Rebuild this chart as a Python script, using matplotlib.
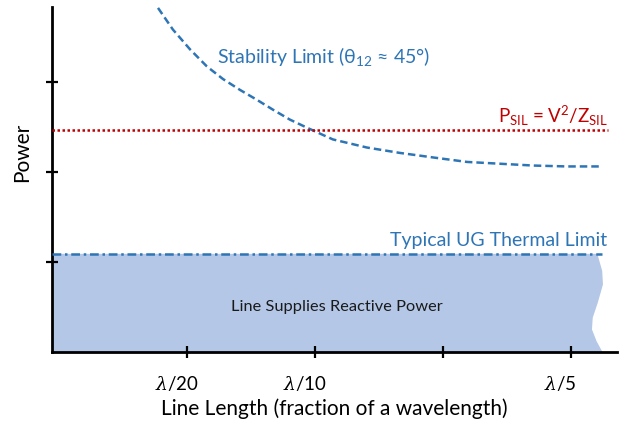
import numpy as np
import matplotlib.pyplot as plt

plt.rcParams['font.family'] = ['Lato', 'DejaVu Sans']
plt.rcParams['mathtext.fontset'] = 'custom'
plt.rcParams['mathtext.rm'] = 'Lato'
plt.rcParams['mathtext.it'] = 'DejaVu Serif:italic'

# stability limit curve (line length as fraction of wavelength, power)
stab_x = [0.0387, 0.0445, 0.0512, 0.0578, 0.0641, 0.0707, 0.0773, 0.0836, 0.0902,
          0.0969, 0.1031, 0.1070, 0.1203, 0.1332, 0.1461, 0.1594, 0.1723, 0.1852,
          0.1984, 0.2121]
stab_y = [3.82, 3.58, 3.36, 3.17, 3.03, 2.91, 2.80, 2.69, 2.58,
          2.49, 2.41, 2.36, 2.27, 2.21, 2.16, 2.11, 2.09, 2.07,
          2.06, 2.06]

p_sil = 2.46
thermal_limit = 1.09

# wavy right edge of the reactive-power region
edge_x = [0.2103, 0.2122, 0.2125, 0.2105, 0.2085, 0.2082, 0.2100, 0.2123]
edge_y = [1.09, 0.90, 0.75, 0.55, 0.38, 0.25, 0.12, 0.0]

xticks = [0.05, 0.10, 0.15, 0.20]
xticklabels = [r'$\lambda$/20', r'$\lambda$/10', '', r'$\lambda$/5']
yticks = [1, 2, 3]

blue = '#2e75b6'
red = '#c00000'
fill_c = '#b4c7e7'

fig = plt.figure(figsize=(6.29, 4.24), dpi=100)
ax = fig.add_axes([0.0827, 0.1698, 0.8983, 0.8137])

# shaded region with a torn right edge
poly_x = [-0.0027] + edge_x + [-0.0027]
poly_y = [thermal_limit] + edge_y + [0.0]
ax.fill(poly_x, poly_y, color=fill_c, lw=0, zorder=1)

ax.plot(stab_x, stab_y, color=blue, lw=1.8, ls=(0, (3, 1.6)), zorder=3)
ax.plot([-0.0027, 0.2145], [p_sil, p_sil], color=red, lw=1.8, ls=(0, (1, 1)), zorder=3)
ax.plot([-0.0027, 0.2120], [thermal_limit, thermal_limit], color=blue, lw=1.8,
        ls=(0, (3.5, 1.5, 1, 1.5)), zorder=3)

ax.text(0.1035, 3.28, r'Stability Limit ($\mathrm{\theta}_{12}$ ≈ 45°)', color=blue,
        fontsize=14, ha='center', va='center')
ax.text(0.2145, 2.62, r'P$_{\mathrm{SIL}}$ = V$^2$/Z$_{\mathrm{SIL}}$', color=red,
        fontsize=13.5, ha='right', va='center')
ax.text(0.2140, 1.24, 'Typical UG Thermal Limit', color=blue,
        fontsize=14, ha='right', va='center')
ax.text(0.1086, 0.50, 'Line Supplies Reactive Power', color='#1a1a1a',
        fontsize=11.8, ha='center', va='center')

ax.set_xlim(-0.0027, 0.218)
ax.set_ylim(0, 3.83)

# tick marks on major ticks, labels (sitting a little left of each tick) on minor ticks
ax.set_xticks(xticks)
ax.set_xticklabels([])
ax.set_xticks([t - 0.004 for t in xticks], minor=True)
ax.set_xticklabels(xticklabels, minor=True, fontsize=13.5)
ax.tick_params(axis='x', which='minor', length=0, pad=16)

ax.set_yticks(yticks)
ax.set_yticklabels([])
ax.tick_params(which='major', direction='inout', length=9, width=1.6, colors='black')

for side in ['top', 'right']:
    ax.spines[side].set_visible(False)
for side in ['left', 'bottom']:
    ax.spines[side].set_linewidth(2)

ax.set_xlabel('Line Length (fraction of a wavelength)', fontsize=15, labelpad=4)
ax.set_ylabel('Power', fontsize=15)
ax.yaxis.set_label_coords(-0.035, 0.58)

fig.savefig('out.png', dpi=100)
